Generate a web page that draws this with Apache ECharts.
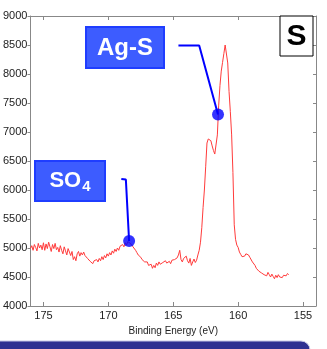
<!DOCTYPE html>
<html>
<head>
<meta charset="utf-8">
<script src="https://cdn.jsdelivr.net/npm/echarts@6/dist/echarts.min.js"></script>
<style>
  html, body { margin: 0; padding: 0; background: #ffffff; }
  #chart { width: 327px; height: 349px; }
</style>
</head>
<body>
<div id="chart"></div>
<script>
// S 2p region, binding energy (eV) vs counts
const energies = [
  176.0, 175.9, 175.8, 175.7, 175.6, 175.5, 175.4, 175.3, 175.2, 175.1,
  175.0, 174.9, 174.8, 174.7, 174.6, 174.5, 174.4, 174.3, 174.2, 174.1,
  174.0, 173.9, 173.8, 173.7, 173.6, 173.5, 173.4, 173.3, 173.2, 173.1,
  173.0, 172.9, 172.8, 172.7, 172.6, 172.5, 172.4, 172.3, 172.2, 172.1,
  172.0, 171.9, 171.8, 171.7, 171.6, 171.5, 171.4, 171.3, 171.2, 171.1,
  171.0, 170.9, 170.8, 170.7, 170.6, 170.5, 170.4, 170.3, 170.2, 170.1,
  170.0, 169.9, 169.8, 169.7, 169.6, 169.5, 169.4, 169.3, 169.2, 169.1,
  169.0, 168.9, 168.8, 168.7, 168.6, 168.5, 168.4, 168.3, 168.2, 168.1,
  168.0, 167.9, 167.8, 167.7, 167.6, 167.5, 167.4, 167.3, 167.2, 167.1,
  167.0, 166.9, 166.8, 166.7, 166.6, 166.5, 166.4, 166.3, 166.2, 166.1,
  166.0, 165.9, 165.8, 165.7, 165.6, 165.5, 165.4, 165.3, 165.2, 165.1,
  165.0, 164.9, 164.8, 164.7, 164.6, 164.5, 164.4, 164.3, 164.2, 164.1,
  164.0, 163.9, 163.8, 163.7, 163.6, 163.5, 163.4, 163.3, 163.2, 163.1,
  163.0, 162.9, 162.8, 162.7, 162.6, 162.5, 162.4, 162.3, 162.2, 162.1,
  162.0, 161.9, 161.8, 161.7, 161.6, 161.5, 161.4, 161.3, 161.2, 161.1,
  161.0, 160.9, 160.8, 160.7, 160.6, 160.5, 160.4, 160.3, 160.2, 160.1,
  160.0, 159.9, 159.8, 159.7, 159.6, 159.5, 159.4, 159.3, 159.2, 159.1,
  159.0, 158.9, 158.8, 158.7, 158.6, 158.5, 158.4, 158.3, 158.2, 158.1,
  158.0, 157.9, 157.8, 157.7, 157.6, 157.5, 157.4, 157.3, 157.2, 157.1,
  157.0, 156.9, 156.8, 156.7, 156.6, 156.5, 156.4, 156.3, 156.2, 156.1
];
const counts = [
  4990, 5040, 4960, 5060, 5010, 4950, 5080, 5000, 5050, 4970,
  5090, 4960, 5070, 4990, 5100, 5020, 4940, 5060, 4990, 5080,
  4970, 5010, 4930, 5040, 4960, 4900, 5020, 4950, 4880, 4990,
  4930, 4870, 4940, 4800, 4850, 4780, 4900, 4940, 4860, 4920,
  4880, 4930, 4870, 4900, 4820, 4850, 4770, 4790, 4730, 4780,
  4750, 4800, 4760, 4820, 4780, 4850, 4800, 4870, 4830, 4900,
  4860, 4920, 4880, 4950, 4910, 4980, 4940, 5000, 4960, 5030,
  5010, 5060, 5020, 5090, 5050, 5110, 5120, 5080, 5060, 5020,
  4990, 4960, 4920, 4880, 4900, 4840, 4800, 4820, 4760, 4730,
  4760, 4700, 4680, 4720, 4650, 4700, 4660, 4740, 4700, 4760,
  4720, 4690, 4750, 4720, 4780, 4740, 4710, 4770, 4730, 4790,
  4760, 4800, 4770, 4830, 4880, 4960, 4800, 4760, 4820, 4790,
  4860, 4780, 4740, 4820, 4700, 4760, 4810, 4750, 4790, 4880,
  4960, 5100, 5350, 5700, 6000, 6400, 6810, 6880, 6900, 6850,
  6760, 6680, 6620, 6590, 6950, 7450, 7800, 8050, 8200, 8350,
  8500, 8480, 8190, 7700, 7350, 6950, 6300, 5400, 5150, 5050,
  5010, 4930, 4890, 4850, 4820, 4860, 4900, 4920, 4880, 4840,
  4810, 4760, 4730, 4700, 4650, 4620, 4600, 4630, 4570, 4590,
  4540, 4560, 4520, 4580, 4540, 4500, 4550, 4510, 4470, 4530,
  4490, 4540, 4500, 4520, 4490, 4530, 4550, 4520, 4560, 4540
];

const xTicks = [155, 160, 165, 170, 175];

// annotated peaks: marker position and leader line (label end -> elbow -> marker)
const peakMarkers = [[168.4, 5120], [161.55, 7300]];
const so4Leader = [[169.0, 6190], [168.65, 6180], [168.4, 5120]];
const agsLeader = [[164.6, 8490], [163.0, 8490], [161.55, 7300]];

const spectrum = energies.map((e, i) => [e, counts[i]]);

const chart = echarts.init(document.getElementById('chart'));

const labelFont = 'Liberation Sans, Arial, sans-serif';

chart.setOption({
  animation: false,
  backgroundColor: '#ffffff',
  grid: { left: 27, right: 11, top: 16, bottom: 43 },
  xAxis: [
    {
      type: 'value',
      min: 154,
      max: 176,
      inverse: true,
      name: 'Binding Energy (eV)',
      nameLocation: 'middle',
      nameGap: 19,
      nameTextStyle: { fontSize: 10, color: '#222', fontFamily: labelFont },
      axisLine: { lineStyle: { color: '#888', width: 1 } },
      axisTick: { inside: true, length: 4, customValues: xTicks, lineStyle: { color: '#888' } },
      axisLabel: { customValues: xTicks, fontSize: 11, color: '#222', margin: 4, fontFamily: labelFont },
      splitLine: { show: false }
    },
    {
      type: 'value',
      position: 'top',
      min: 154,
      max: 176,
      inverse: true,
      axisLine: { lineStyle: { color: '#888', width: 1 } },
      axisTick: { inside: true, length: 4, customValues: xTicks, lineStyle: { color: '#888' } },
      axisLabel: { show: false },
      splitLine: { show: false }
    }
  ],
  yAxis: [
    {
      type: 'value',
      min: 4000,
      max: 9000,
      interval: 500,
      axisLine: { show: true, lineStyle: { color: '#888', width: 1 } },
      axisTick: { show: true, inside: false, length: 3, lineStyle: { color: '#888' } },
      axisLabel: {
        fontSize: 11, color: '#222', margin: 3, fontFamily: labelFont,
        formatter: v => String(v)
      },
      splitLine: { show: false }
    },
    {
      type: 'value',
      position: 'right',
      min: 4000,
      max: 9000,
      interval: 500,
      axisLine: { show: true, lineStyle: { color: '#888', width: 1 } },
      axisTick: { show: true, inside: true, length: 3, lineStyle: { color: '#888' } },
      axisLabel: { show: false },
      splitLine: { show: false }
    }
  ],
  series: [
    {
      type: 'line',
      data: spectrum,
      showSymbol: false,
      smooth: false,
      lineStyle: { color: '#ff3b3b', width: 1 },
      z: 2
    },
    {
      type: 'line',
      data: so4Leader,
      showSymbol: false,
      lineStyle: { color: '#0000ff', width: 2 },
      z: 3
    },
    {
      type: 'line',
      data: agsLeader,
      showSymbol: false,
      lineStyle: { color: '#0000ff', width: 2 },
      z: 3
    },
    {
      type: 'scatter',
      data: peakMarkers,
      symbol: 'circle',
      symbolSize: 12,
      itemStyle: { color: '#0000ff' },
      z: 4
    }
  ],
  graphic: [
    // "S" element box
    {
      type: 'rect',
      shape: { x: 280, y: 16, width: 33, height: 40 },
      style: { fill: '#ffffff', stroke: '#000000', lineWidth: 1 },
      z: 10
    },
    {
      type: 'text',
      x: 296.5,
      y: 37,
      style: {
        text: 'S', fill: '#000', font: 'bold 30px ' + labelFont,
        align: 'center', verticalAlign: 'middle'
      },
      z: 11
    },
    // Ag-S label
    {
      type: 'rect',
      shape: { x: 86, y: 27, width: 78, height: 41 },
      style: { fill: '#3d5cff', stroke: '#1f3dff', lineWidth: 2 },
      z: 10
    },
    {
      type: 'text',
      x: 125,
      y: 48,
      style: {
        text: 'Ag-S', fill: '#ffffff', font: 'bold 24px ' + labelFont,
        align: 'center', verticalAlign: 'middle'
      },
      z: 11
    },
    // SO4 label
    {
      type: 'rect',
      shape: { x: 35, y: 161, width: 70, height: 40 },
      style: { fill: '#3d5cff', stroke: '#1f3dff', lineWidth: 2 },
      z: 10
    },
    {
      type: 'text',
      x: 70,
      y: 181,
      style: {
        text: '{a|SO}{b|4}',
        align: 'center', verticalAlign: 'middle',
        rich: {
          a: { fill: '#ffffff', fontSize: 22, fontWeight: 'bold', fontFamily: labelFont, verticalAlign: 'middle' },
          b: { fill: '#ffffff', fontSize: 15, fontWeight: 'bold', fontFamily: labelFont, padding: [12, 0, 0, 1] }
        }
      },
      z: 11
    },
    // footer band
    {
      type: 'rect',
      shape: { x: -10, y: 341, width: 320, height: 12, r: [0, 9, 0, 0] },
      style: { fill: '#2e3192', stroke: '#c6c8e6', lineWidth: 1 },
      z: 10
    }
  ]
});
</script>
</body>
</html>
